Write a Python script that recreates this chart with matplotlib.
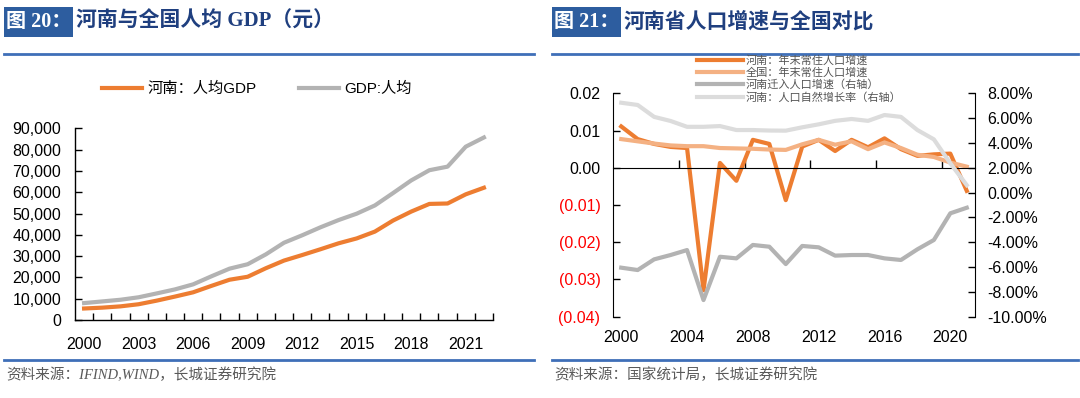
import matplotlib
matplotlib.use("Agg")
import matplotlib.pyplot as plt
from matplotlib.lines import Line2D
from matplotlib.patches import Rectangle
from matplotlib.ticker import FuncFormatter

plt.rcParams['font.family'] = ['Liberation Sans', 'Noto Sans CJK SC']
plt.rcParams['axes.unicode_minus'] = False

# ---- data: figure 20 (GDP per capita, yuan)
gdp_years = list(range(2000, 2023))
henan_gdp = [5400, 5800, 6400, 7400, 9100, 11000, 13000, 16000, 18900, 20300,
             24300, 27900, 30500, 33200, 36000, 38300, 41500, 46700, 50900,
             54500, 54700, 59000, 62100]
china_gdp = [7942, 8717, 9506, 10666, 12487, 14368, 16738, 20494, 24100, 26180,
             30808, 36277, 39771, 43497, 46912, 49922, 53783, 59592, 65534,
             70328, 72000, 81370, 85698]
gdp_labels = ["河南：人均GDP", "GDP:人均"]

# ---- data: figure 21 (population growth)
pop_years = list(range(2000, 2022))
henan_pop = [0.0111, 0.0077, 0.0064, 0.0056, 0.0053, -0.0329, 0.0013, -0.0035,
             0.0075, 0.0064, -0.0087, 0.0057, 0.0075, 0.0045, 0.0075, 0.0055,
             0.0079, 0.0050, 0.0032, 0.0036, 0.0038, -0.0062]
china_pop = [0.0077, 0.0071, 0.0065, 0.0060, 0.0058, 0.0058, 0.0053, 0.0052,
             0.0051, 0.0049, 0.0048, 0.0063, 0.0075, 0.0062, 0.0071, 0.0050,
             0.0068, 0.0053, 0.0035, 0.0029, 0.0014, 0.0003]
henan_migr = [-6.05, -6.24, -5.38, -5.03, -4.63, -8.66, -5.17, -5.30, -4.22,
              -4.36, -5.76, -4.30, -4.41, -5.08, -5.03, -5.03, -5.30, -5.43,
              -4.57, -3.82, -1.67, -1.22]
henan_natural = [7.24, 7.06, 6.10, 5.77, 5.30, 5.30, 5.36, 5.04, 5.04, 5.00,
                 4.99, 5.26, 5.50, 5.78, 5.93, 5.78, 6.25, 6.10, 5.04, 4.29,
                 2.36, 0.60]
pop_labels = ["河南：年末常住人口增速", "全国：年末常住人口增速",
              "河南迁入人口增速（右轴）", "河南：人口自然增长率（右轴）"]

ORANGE, LORANGE = "#ED7D31", "#F4B183"
GREY, LGREY = "#B3B3B3", "#DCDCDC"
BLUE_BOX, BLUE_TXT, BLUE_LINE = "#2D5D9F", "#1F3F7F", "#3F6FB8"
W, H = 1080, 398


def fx(px):
    return px / W


def fy(py):
    return 1 - py / H


fig = plt.figure(figsize=(10.8, 3.98), dpi=100)

# ---- headers / footers
for x0, x1, num, title, src in [
        (4, 534, "图 20：", "河南与全国人均 GDP（元）", "资料来源：IFIND,WIND，长城证券研究院"),
        (552, 1078, "图 21：", "河南省人口增速与全国对比", "资料来源：国家统计局，长城证券研究院")]:
    fig.add_artist(Rectangle((fx(x0), fy(37)), 69 / W, 30 / H, transform=fig.transFigure,
                             facecolor=BLUE_BOX, edgecolor="none"))
    fig.text(fx(x0 + 34.5), fy(22), num, color="white", fontsize=14.5, fontweight="bold",
             ha="center", va="center", family=["Liberation Serif", "Noto Sans CJK SC"])
    fig.text(fx(x0 + 72), fy(22), title, color=BLUE_TXT, fontsize=15, fontweight="bold",
             ha="left", va="center", family=["Liberation Serif", "Noto Sans CJK SC"])
    for yy in (54, 360):
        fig.add_artist(Line2D([fx(x0), fx(x1)], [fy(yy), fy(yy)], color=BLUE_LINE, lw=2))
    fig.text(fx(x0 + 2), fy(375), src, color="#595959", fontsize=10.5, style="italic",
             ha="left", va="center", family=["Liberation Serif", "Noto Sans CJK SC"])

# ---- figure 20
ax = fig.add_axes([fx(75), fy(320), (493 - 75) / W, (320 - 128.3) / H])
xg = range(len(gdp_years))
ax.plot(xg, henan_gdp, color=ORANGE, lw=3, label=gdp_labels[0], solid_joinstyle="round")
ax.plot(xg, china_gdp, color=GREY, lw=3, label=gdp_labels[1], solid_joinstyle="round")
ax.set_xlim(-0.5, len(gdp_years) - 0.5)
ax.set_ylim(0, 90000)
ax.set_yticks(range(0, 90001, 10000))
ax.yaxis.set_major_formatter(FuncFormatter(lambda v, p: f"{int(v):,}"))
ax.set_xticks(list(xg)[::3], [str(y) for y in gdp_years[::3]])
ax.set_xticks([i + 0.5 for i in xg], minor=True)
ax.tick_params(axis="x", which="major", length=0, pad=12, labelsize=11.5)
ax.tick_params(axis="x", which="minor", direction="in", length=5, width=1)
ax.tick_params(axis="y", direction="in", length=5, width=1, pad=10, labelsize=11.5)
for s in ("top", "right"):
    ax.spines[s].set_visible(False)
for s in ("left", "bottom"):
    ax.spines[s].set_linewidth(1)
ax.legend(loc="center left", bbox_to_anchor=(fx(102), fy(89)), bbox_transform=fig.transFigure,
          ncol=2, frameon=False, fontsize=11, handlelength=2.6, handletextpad=0.35,
          columnspacing=2.8, borderpad=0, borderaxespad=0)

# ---- figure 21
ax2 = fig.add_axes([fx(613), fy(316.7), (975 - 613) / W, (316.7 - 93.3) / H])
xp = range(len(pop_years))
l1, = ax2.plot(xp, henan_pop, color=ORANGE, lw=3, solid_joinstyle="round")
l2, = ax2.plot(xp, china_pop, color=LORANGE, lw=3, solid_joinstyle="round")
ax2.set_xlim(-0.5, len(pop_years) - 0.5)
ax2.set_ylim(-0.04, 0.02)
lt = [0.02, 0.01, 0.0, -0.01, -0.02, -0.03, -0.04]
ax2.set_yticks(lt, [f"({-v:.2f})" if v < 0 else f"{v:.2f}" for v in lt])
for lab, v in zip(ax2.get_yticklabels(), lt):
    lab.set_color("#FF0000" if v < 0 else "black")
ax2.spines["bottom"].set_position(("data", 0))
ax2.set_xticks(list(xp)[::4])
ax2.set_xticks([i + 0.5 for i in list(xp)[3::4]], minor=True)
ax2.tick_params(axis="x", which="major", length=0, labelbottom=False)
ax2.tick_params(axis="x", which="minor", direction="in", length=6, width=1)
ax2.tick_params(axis="y", direction="in", length=5, width=1, pad=9, labelsize=11.5)
for i in list(xp)[::4]:
    ax2.text(i, -0.095, str(pop_years[i]), transform=ax2.get_xaxis_transform(),
             ha="center", va="center", fontsize=11.5)
for s in ("top", "right"):
    ax2.spines[s].set_visible(False)

ax3 = ax2.twinx()
l3, = ax3.plot(xp, henan_migr, color=GREY, lw=3, solid_joinstyle="round")
l4, = ax3.plot(xp, henan_natural, color=LGREY, lw=3, solid_joinstyle="round")
ax3.set_ylim(-10, 8)
rt = list(range(8, -11, -2))
ax3.set_yticks(rt, [f"{v:.2f}%" for v in rt])
ax3.tick_params(axis="y", direction="in", length=5, width=1, pad=9, labelsize=11.5)
for s in ("top", "left", "bottom"):
    ax3.spines[s].set_visible(False)

fig.legend([l1, l2, l3, l4], pop_labels, loc="upper left",
           bbox_to_anchor=(fx(697), fy(55)), bbox_transform=fig.transFigure,
           frameon=False, fontsize=8, handlelength=4.1, handletextpad=0.3,
           labelspacing=0.15, borderpad=0, borderaxespad=0, labelcolor="#555555")

fig.savefig("out.png", dpi=100, facecolor="white")
